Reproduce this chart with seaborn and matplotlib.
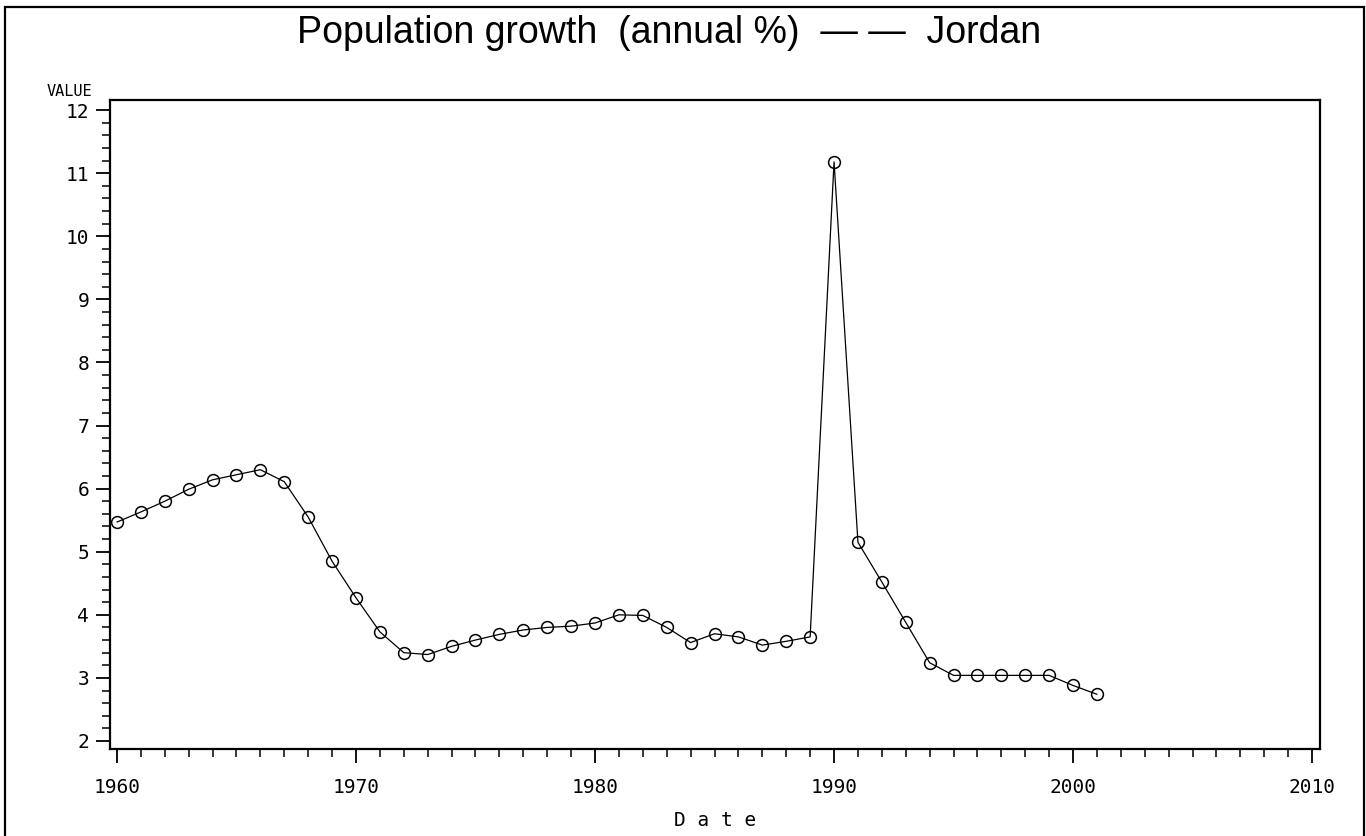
import numpy as np
import pandas as pd
import seaborn as sns
import matplotlib.pyplot as plt
from matplotlib.patches import Rectangle
from matplotlib.ticker import MultipleLocator

years = list(range(1960, 2002))
growth = [
    5.47, 5.63, 5.80, 5.99, 6.14, 6.22, 6.30, 6.11, 5.55, 4.85,
    4.27, 3.73, 3.40, 3.37, 3.50, 3.60, 3.69, 3.76, 3.80, 3.82,
    3.87, 4.00, 3.99, 3.80, 3.56, 3.70, 3.65, 3.52, 3.58, 3.65,
    11.18, 5.15, 4.52, 3.88, 3.24, 3.04, 3.04, 3.04, 3.04, 3.04,
    2.88, 2.74,
]
x_ticks = [1960, 1970, 1980, 1990, 2000, 2010]
y_ticks = list(range(2, 13))

df = pd.DataFrame({"Date": years, "VALUE": growth})

sns.set_theme(style="ticks")
plt.rcParams["font.family"] = ["DejaVu Sans Mono", "DejaVu Sans"]
plt.rcParams["text.color"] = "black"

fig = plt.figure(figsize=(13.66, 8.36), dpi=100)
ax = fig.add_axes([110 / 1366, 1 - 749 / 836, 1210 / 1366, 649 / 836])

sns.lineplot(
    data=df, x="Date", y="VALUE", ax=ax,
    color="black", linewidth=0.9,
    marker="o", markersize=8.5, markerfacecolor="none",
    markeredgecolor="black", markeredgewidth=1.1,
)

ax.set_xlim(1959.71, 2010.33)
ax.set_ylim(1.873, 12.16)
ax.set_xticks(x_ticks)
ax.set_yticks(y_ticks)
ax.xaxis.set_minor_locator(MultipleLocator(1))
ax.yaxis.set_minor_locator(MultipleLocator(0.2))
ax.tick_params(axis="both", which="major", length=10, width=1.3,
               colors="black", labelsize=14)
ax.tick_params(axis="both", which="minor", length=5.5, width=1.1, colors="black")
ax.tick_params(axis="x", which="major", pad=11)
ax.tick_params(axis="y", which="major", pad=5)

for s in ax.spines.values():
    s.set_visible(True)
    s.set_linewidth(1.6)
    s.set_color("black")

ax.set_ylabel("")
ax.set_xlabel("D a t e", fontsize=14, labelpad=10, color="black")

fig.text(92 / 1366, 1 - 92 / 836, "VALUE", ha="right", va="center",
         fontsize=11, color="black")
fig.text(669 / 1366, 1 - 33 / 836, "Population growth  (annual %)  \u2014 \u2014  Jordan",
         ha="center", va="center", fontsize=27, color="black",
         family=["Liberation Sans", "DejaVu Sans"])

fig.patches.append(Rectangle((5 / 1366, -0.05), 1359 / 1366, 0.05 + 1 - 7 / 836,
                             transform=fig.transFigure, fill=False,
                             edgecolor="black", linewidth=1.6))

fig.savefig("out.png", dpi=100, facecolor="white")
